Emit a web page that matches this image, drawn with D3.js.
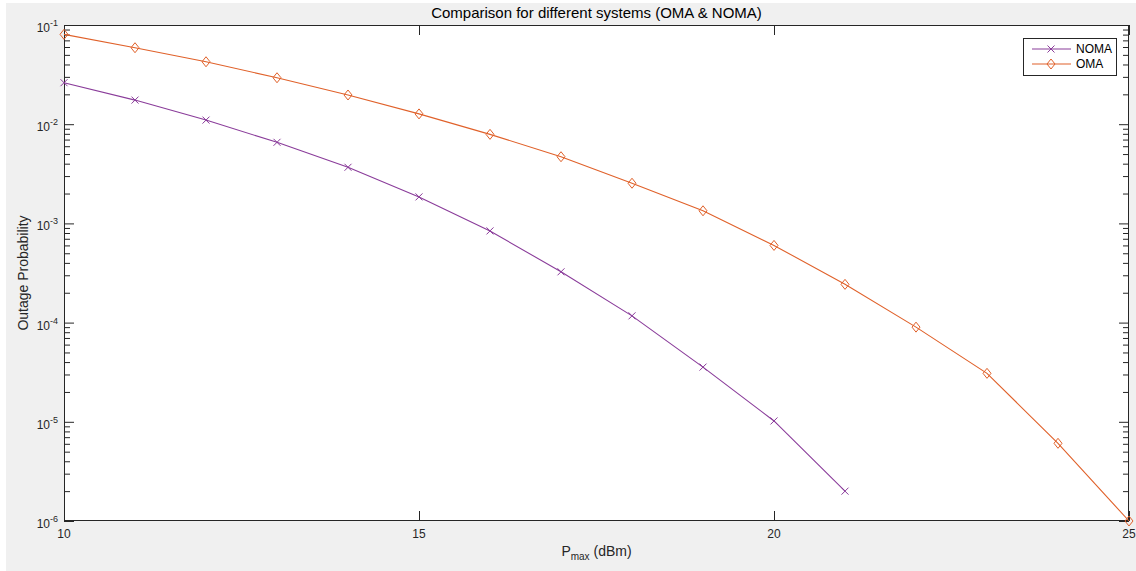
<!DOCTYPE html>
<html><head><meta charset="utf-8">
<script src="https://cdn.jsdelivr.net/npm/d3@7"></script>
<style>
html,body{margin:0;padding:0;background:#fff;}
svg{display:block;font-family:"Liberation Sans",Arial,sans-serif;}
</style></head>
<body>
<svg id="c" width="1136" height="571"></svg>
<script>
const xValsNOMA = [10,11,12,13,14,15,16,17,18,19,20,21];
const nomaVals = [0.0262,0.0175,0.0110,0.00657,0.00368,0.00185,8.4e-4,3.25e-4,1.17e-4,3.56e-5,1.02e-5,2.0e-6];
const xValsOMA = [10,11,12,13,14,15,16,17,18,19,20,21,22,23,24,25];
const omaVals = [0.0805,0.059,0.0426,0.0294,0.0197,0.0127,0.0079,0.0047,0.00254,0.00134,6.0e-4,2.43e-4,9.0e-5,3.08e-5,6.07e-6,1e-6];
const xTicks = [10,15,20,25];
const yExps = [-1,-2,-3,-4,-5,-6];
const seriesNames = ["NOMA","OMA"];
const titleText = "Comparison for different systems (OMA & NOMA)";

const svg = d3.select("#c");
const L=64,R=1129,T=25,B=521;
const axisCol="#262626";
svg.append("rect").attr("x",6).attr("y",3).attr("width",1130).attr("height",568).attr("fill","#f0f0f0");
svg.append("rect").attr("x",L).attr("y",T).attr("width",R-L).attr("height",B-T).attr("fill","#fff");

const x = d3.scaleLinear().domain([10,25]).range([L,R]);
const y = d3.scaleLog().domain([1e-6,1e-1]).range([B,T]);

const majors = yExps.map(e=>Math.pow(10,e));
const minors = [];
for(let e=-6;e<-1;e++) for(let m=2;m<=9;m++) minors.push(m*Math.pow(10,e));

function styleAxis(g){ g.select(".domain").remove(); g.selectAll("line").attr("stroke",axisCol).attr("stroke-width",1); g.selectAll("text").remove(); }

svg.append("g").attr("transform",`translate(${L},0)`).call(d3.axisLeft(y).tickValues(majors).tickSize(-10).tickFormat("")).call(styleAxis);
svg.append("g").attr("transform",`translate(${L},0)`).call(d3.axisLeft(y).tickValues(minors).tickSize(-6).tickFormat("")).call(styleAxis);
svg.append("g").attr("transform",`translate(${R},0)`).call(d3.axisRight(y).tickValues(majors).tickSize(-10).tickFormat("")).call(styleAxis);
svg.append("g").attr("transform",`translate(${R},0)`).call(d3.axisRight(y).tickValues(minors).tickSize(-6).tickFormat("")).call(styleAxis);
svg.append("g").attr("transform",`translate(0,${B})`).call(d3.axisBottom(x).tickValues(xTicks).tickSize(-10).tickFormat("")).call(styleAxis);
svg.append("g").attr("transform",`translate(0,${T})`).call(d3.axisTop(x).tickValues(xTicks).tickSize(-10).tickFormat("")).call(styleAxis);

svg.append("rect").attr("x",L+0.5).attr("y",T+0.5).attr("width",R-L-1).attr("height",B-T-1).attr("fill","none").attr("stroke",axisCol).attr("stroke-width",1);

svg.append("g").selectAll("text").data(xTicks).join("text")
  .attr("x",d=>x(d)).attr("y",B+17).attr("text-anchor","middle")
  .attr("font-size",12).attr("fill",axisCol).text(d=>d);

const yl = svg.append("g").selectAll("text").data(yExps).join("text")
  .attr("x",L-6).attr("y",d=>y(Math.pow(10,d))+7).attr("text-anchor","end")
  .attr("font-size",12).attr("fill",axisCol);
yl.append("tspan").text("10");
yl.append("tspan").attr("dy",-6).attr("font-size",9).text(d=>String(d));

svg.append("text").attr("x",(L+R)/2).attr("y",18).attr("text-anchor","middle").attr("font-size",15).attr("fill","#000").text(titleText);
const xl = svg.append("text").attr("x",(L+R)/2).attr("y",556).attr("text-anchor","middle").attr("font-size",14).attr("fill",axisCol);
xl.append("tspan").text("P");
xl.append("tspan").attr("dy",4).attr("font-size",10).text("max");
xl.append("tspan").attr("dy",-4).text(" (dBm)");
svg.append("text").attr("transform",`translate(28,${(T+B)/2}) rotate(-90)`).attr("text-anchor","middle").attr("font-size",14).attr("fill",axisCol).text("Outage Probability");

const colNOMA="#8a3c9a", colOMA="#e0612a";
const line = d3.line().x(d=>x(d[0])).y(d=>y(d[1]));
const plot = svg.append("g");
const noma = xValsNOMA.map((v,i)=>[v,nomaVals[i]]);
const oma = xValsOMA.map((v,i)=>[v,omaVals[i]]);

function xMarker(g,cx,cy,c){ const s=3.5; g.append("path").attr("d",`M${cx-s},${cy-s}L${cx+s},${cy+s}M${cx-s},${cy+s}L${cx+s},${cy-s}`).attr("stroke",c).attr("stroke-width",1).attr("fill","none"); }
function dMarker(g,cx,cy,c){ const w=4,h=5; g.append("path").attr("d",`M${cx},${cy-h}L${cx+w},${cy}L${cx},${cy+h}L${cx-w},${cy}Z`).attr("stroke",c).attr("stroke-width",1).attr("fill","none"); }

plot.append("path").datum(noma).attr("d",line).attr("fill","none").attr("stroke",colNOMA).attr("stroke-width",1.1);
plot.append("path").datum(oma).attr("d",line).attr("fill","none").attr("stroke",colOMA).attr("stroke-width",1.1);
noma.forEach(d=>xMarker(plot,x(d[0]),y(d[1]),colNOMA));
oma.forEach(d=>dMarker(plot,x(d[0]),y(d[1]),colOMA));

const lg = svg.append("g");
lg.append("rect").attr("x",1023.5).attr("y",38.5).attr("width",93).attr("height",37).attr("fill","#fff").attr("stroke",axisCol).attr("stroke-width",1);
const cols=[colNOMA,colOMA];
seriesNames.forEach((n,i)=>{
  const yy = 49+i*15;
  lg.append("line").attr("x1",1032).attr("x2",1071).attr("y1",yy).attr("y2",yy).attr("stroke",cols[i]).attr("stroke-width",1.1);
  if(i===0) xMarker(lg,1051,yy,cols[i]); else dMarker(lg,1051,yy,cols[i]);
  lg.append("text").attr("x",1076).attr("y",yy+4).attr("font-size",12).attr("fill","#000").text(n);
});
</script>
</body></html>
